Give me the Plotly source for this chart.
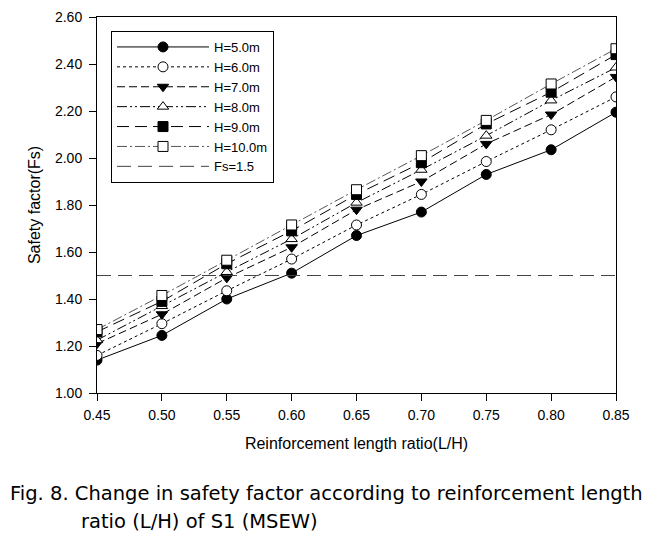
import plotly.graph_objects as go

ratio = [0.45, 0.50, 0.55, 0.60, 0.65, 0.70, 0.75, 0.80, 0.85]
h5 = [1.14, 1.245, 1.40, 1.51, 1.67, 1.77, 1.93, 2.035, 2.195]
h6 = [1.16, 1.295, 1.435, 1.57, 1.715, 1.845, 1.985, 2.12, 2.26]
h7 = [1.21, 1.335, 1.49, 1.62, 1.78, 1.90, 2.06, 2.185, 2.345]
h8 = [1.225, 1.37, 1.515, 1.655, 1.81, 1.95, 2.095, 2.245, 2.385]
h9 = [1.26, 1.39, 1.55, 1.69, 1.845, 1.98, 2.145, 2.28, 2.44]
h10 = [1.27, 1.415, 1.565, 1.715, 1.865, 2.01, 2.16, 2.315, 2.465]
fs_x = [0.45, 0.85]
fs_y = [1.5, 1.5]

names = ["H=5.0m", "H=6.0m", "H=7.0m", "H=8.0m", "H=9.0m", "H=10.0m"]
series = [h5, h6, h7, h8, h9, h10]
styles = [
    dict(dash="solid", color="black", symbol="circle", fill="black"),
    dict(dash="dot", color="black", symbol="circle", fill="white"),
    dict(dash="8px,4px", color="black", symbol="triangle-down", fill="black"),
    dict(dash="10px,3px,2px,3px,2px,3px", color="black", symbol="triangle-up", fill="white"),
    dict(dash="12px,6px", color="black", symbol="square", fill="black"),
    dict(dash="10px,3px,2px,3px", color="#555555", symbol="square", fill="white"),
]

fig = go.Figure()
for name, ys, st in zip(names, series, styles):
    fig.add_trace(go.Scatter(
        x=ratio, y=ys, name=name, mode="lines+markers",
        line=dict(color=st["color"], width=1, dash=st["dash"]),
        marker=dict(symbol=st["symbol"], size=10, color=st["fill"],
                    line=dict(color="black", width=1)),
    ))
fig.add_trace(go.Scatter(
    x=fs_x, y=fs_y, name="Fs=1.5", mode="lines",
    line=dict(color="#444444", width=1, dash="14px,7px"),
))

font = "Liberation Sans, Arial, sans-serif"
fig.update_layout(
    width=663, height=539,
    margin=dict(l=97, r=47, t=17, b=146, autoexpand=False),
    plot_bgcolor="white", paper_bgcolor="white",
    font=dict(family=font, color="black", size=14),
    showlegend=True,
    legend=dict(
        x=(111 - 97) / 519, y=(393 - 31) / 376, xanchor="left", yanchor="top",
        bordercolor="black", borderwidth=1, bgcolor="white",
        font=dict(size=13, family=font), itemwidth=92,
        tracegroupgap=0, traceorder="normal",
    ),
    xaxis=dict(
        range=[0.45, 0.85], dtick=0.05, tick0=0.45, tickformat=".2f",
        showgrid=False, zeroline=False, showline=True, linecolor="black",
        linewidth=1, mirror=True, ticks="outside", ticklen=7, tickcolor="black",
        ticklabelstandoff=2,
        title=dict(text="Reinforcement length ratio(L/H)", font=dict(size=16), standoff=16),
        automargin=False,
    ),
    yaxis=dict(
        range=[1.0, 2.6], dtick=0.2, tickformat=".2f",
        showgrid=False, zeroline=False, showline=True, linecolor="black",
        linewidth=1, mirror=True, ticks="outside", ticklen=7, tickcolor="black",
        ticklabelstandoff=4,
        title=dict(text="Safety factor(Fs)", font=dict(size=16), standoff=10),
        automargin=False,
    ),
)

cap_font = dict(family="DejaVu Sans, Liberation Sans, sans-serif", size=19.5, color="black")
fig.add_annotation(
    text="Fig. 8. Change in safety factor according to reinforcement length",
    xref="paper", yref="paper", x=(8 - 97) / 519, y=(393 - 493) / 376,
    xanchor="left", yanchor="middle", showarrow=False, font=cap_font,
)
fig.add_annotation(
    text="ratio (L/H) of S1 (MSEW)",
    xref="paper", yref="paper", x=(79 - 97) / 519, y=(393 - 521) / 376,
    xanchor="left", yanchor="middle", showarrow=False, font=cap_font,
)

fig.write_html("out.html", config={"displayModeBar": False},
               post_script="document.body.style.margin='0';")
